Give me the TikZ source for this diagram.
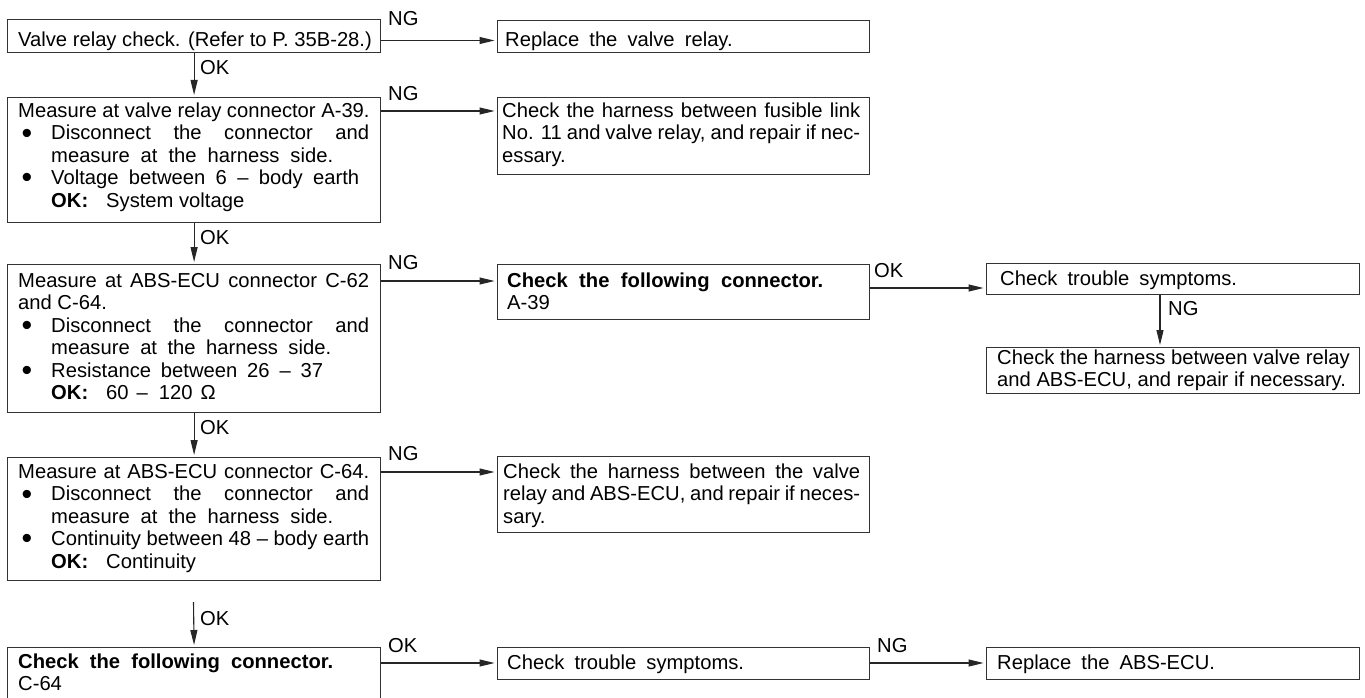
\documentclass[tikz,border=0pt]{standalone}
\usepackage{fontspec}
\usepackage{graphicx}
\setmainfont{Liberation Sans}
\usetikzlibrary{arrows.meta}

% body text size and line pitch
\newcommand\fs{\fontsize{20.2}{22.4}\selectfont}
% a line stretched (or squeezed) to a given width, word spaces taking the slack
\newcommand\spreadto[2]{\hbox to #1pt{\spaceskip=0.278em plus 1fil minus 0.25em\relax #2}}
% a line set with wide word spaces
\newcommand\widesp[1]{{\spaceskip=0.5em\relax #1}}
% large round bullet with its hanging indent
\newcommand\bul{\hbox to 33pt{\hskip3.5pt\raisebox{-3.2pt}{\scalebox{1.5}{\textbullet}}\hfil}}
\newcommand\okhead{\hbox to 55pt{\bfseries OK:\hfil}}

\tikzset{
  fbox/.style={draw=black!80, line width=1.2pt, rectangle, inner sep=0pt, anchor=north west},
  txt/.style={inner sep=0pt, anchor=base west, font=\fs},
  lbl/.style={txt},
  arr/.style={draw=black!85, line width=1.1pt, -{Triangle[length=15pt,width=7pt]}, shorten >=2.5pt},
}

\begin{document}
\begin{tikzpicture}[x=1pt, y=-1pt]
\useasboundingbox (0,0) rectangle (1365,698);

% ---------- left column ----------
\node[fbox, minimum width=373pt, minimum height=33pt]  (b1) at (7,19) {};
\node[fbox, minimum width=373pt, minimum height=125pt] (b2) at (7,97) {};
\node[fbox, minimum width=373pt, minimum height=148pt] (b3) at (7,264) {};
\node[fbox, minimum width=373pt, minimum height=123pt] (b4) at (7,457) {};
\node[fbox, minimum width=373pt, minimum height=70pt]  (b5) at (7,647) {};

\node[txt] (t1) at (18,46.5) {Valve relay check. (Refer to P. 35B-28.)};

\node[txt] (t2) at (18,117.5) {\vtop{%
  \hbox{Measure at valve relay connector A-39.}
  \hbox{\bul\spreadto{318}{Disconnect the connector and}}
  \hbox{\hskip33pt\spreadto{282}{measure at the harness side.}}
  \hbox{\bul\spreadto{308}{Voltage between 6 -- body earth}}
  \hbox{\hskip33pt\okhead System voltage}}};

\node[txt] (t3) at (18,287.5) {\vtop{%
  \hbox{\spreadto{351}{Measure at ABS-ECU connector C-62}}
  \hbox{and C-64.}
  \hbox{\bul\spreadto{318}{Disconnect the connector and}}
  \hbox{\hskip33pt\spreadto{280}{measure at the harness side.}}
  \hbox{\bul\spreadto{272}{Resistance between 26 -- 37}}
  \hbox{\hskip33pt\okhead 60\hskip8pt--\hskip11pt120\hskip8pt Ω}}};

\node[txt] (t4) at (18,478.5) {\vtop{%
  \hbox{\spreadto{351}{Measure at ABS-ECU connector C-64.}}
  \hbox{\bul\spreadto{318}{Disconnect the connector and}}
  \hbox{\hskip33pt\spreadto{282}{measure at the harness side.}}
  \hbox{\bul\spreadto{318}{Continuity between 48 -- body earth}}
  \hbox{\hskip33pt\okhead Continuity}}};

\node[txt] (t5) at (18,668) {\vtop{%
  \hbox{\spreadto{315}{\bfseries Check the following connector.}}
  \hbox{C-64}}};

% ---------- middle column ----------
\node[fbox, minimum width=372pt, minimum height=32pt] (r1) at (497,20) {};
\node[fbox, minimum width=372pt, minimum height=77pt] (r2) at (497,97) {};
\node[fbox, minimum width=372pt, minimum height=55pt] (r3) at (497,264) {};
\node[fbox, minimum width=372pt, minimum height=76pt] (r4) at (497,456) {};
\node[fbox, minimum width=372pt, minimum height=32pt] (r5) at (497,647) {};

\node[txt] (tr1) at (505,46.5) {\widesp{Replace the valve relay.}};

\node[txt] (tr2) at (502,117.5) {\vtop{%
  \hbox{\spreadto{358}{Check the harness between fusible link}}
  \hbox{\spreadto{358}{No. 11 and valve relay, and repair if nec-}}
  \hbox{essary.}}};

\node[txt] (tr3) at (507,287.5) {\vtop{%
  \hbox{\spreadto{316}{\bfseries Check the following connector.}}
  \hbox{A-39}}};

\node[txt] (tr4) at (503,478.5) {\vtop{%
  \hbox{\spreadto{357}{Check the harness between the valve}}
  \hbox{\spreadto{357}{relay and ABS-ECU, and repair if neces-}}
  \hbox{sary.}}};

\node[txt] (tr5) at (507,669) {\widesp{Check trouble symptoms.}};

% ---------- right column ----------
\node[fbox, minimum width=373pt, minimum height=31pt] (s1) at (986,263) {};
\node[fbox, minimum width=373pt, minimum height=46pt] (s2) at (986,347) {};
\node[fbox, minimum width=373pt, minimum height=32pt] (s3) at (986,647) {};

\node[txt] (ts1) at (1000,285) {\widesp{Check trouble symptoms.}};
\node[txt] (ts2) at (997,364) {\vtop{%
  \hbox{Check the harness between valve relay}
  \hbox{and ABS-ECU, and repair if necessary.}}};
\node[txt] (ts3) at (997,669) {\widesp{Replace the ABS-ECU.}};

% ---------- connectors ----------
\coordinate (h1) at (0,40.5);
\coordinate (h2) at (0,111);
\coordinate (h3) at (0,281);
\coordinate (h3b) at (0,288);
\coordinate (h4) at (0,472);
\coordinate (h5) at (0,663);
\coordinate (vx) at (1160,0);
\coordinate (gap) at (193.5,602);

\draw[arr] (b1.east |- h1) -- (r1.west |- h1);
\draw[arr] (b2.east |- h2) -- (r2.west |- h2);
\draw[arr] (b3.east |- h3) -- (r3.west |- h3);
\draw[arr] (r3.east |- h3b) -- (s1.west |- h3b);
\draw[arr] (b4.east |- h4) -- (r4.west |- h4);
\draw[arr] (b5.east |- h5) -- (r5.west |- h5);
\draw[arr] (r5.east |- h5) -- (s3.west |- h5);

\draw[arr, shorten >=2pt] (b1.south) -- (b2.north);
\draw[arr, shorten >=2pt] (b2.south) -- (b3.north);
\draw[arr, shorten >=2pt] (b3.south) -- (b4.north);
\draw[arr, shorten >=2pt] (gap) -- (b5.north);
\draw[arr, shorten >=2pt] (s1.south -| vx) -- (s2.north -| vx);

% ---------- branch labels ----------
\node[lbl] (ng1) at (388,26) {NG};
\node[lbl] (ng2) at (388,101) {NG};
\node[lbl] (ng3) at (388,269) {NG};
\node[lbl] (ng4) at (388,460) {NG};
\node[lbl] (ok5) at (388,652) {OK};
\node[lbl] (ok3b) at (874,277) {OK};
\node[lbl] (ng5) at (877,652) {NG};
\node[lbl] (ngv) at (1168,315) {NG};

\node[lbl] (ok1) at (200,75) {OK};
\node[lbl] (ok2) at (200,244) {OK};
\node[lbl] (ok3) at (200,434) {OK};
\node[lbl] (ok4) at (200,625) {OK};
\end{tikzpicture}
\end{document}
